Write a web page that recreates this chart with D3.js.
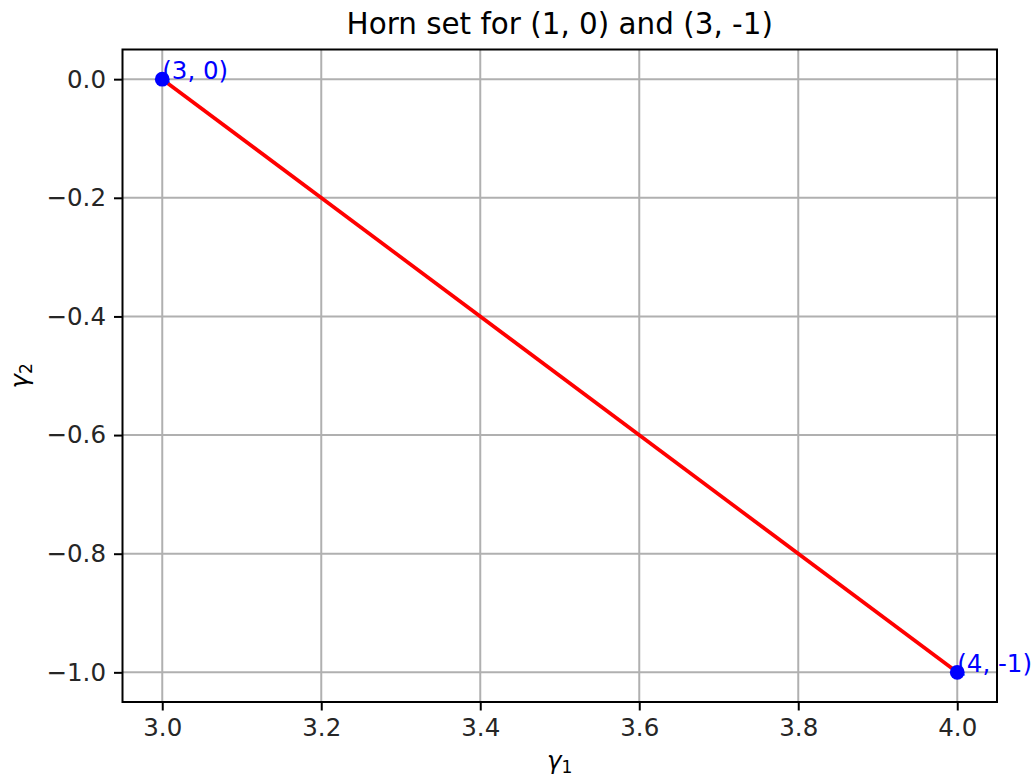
<!DOCTYPE html>
<html><head><meta charset="utf-8">
<script src="https://cdn.jsdelivr.net/npm/d3@7"></script>
<style>body{margin:0;background:#fff}svg{display:block}text{font-family:"DejaVu Sans",sans-serif}</style>
</head><body>
<script>
const titleText = "Horn set for (1, 0) and (3, -1)";
const pointX = [3, 4];
const pointY = [0, -1];
const pointLabels = ["(3, 0)", "(4, -1)"];
const xTicks = [3.0, 3.2, 3.4, 3.6, 3.8, 4.0];
const yTicks = [0.0, -0.2, -0.4, -0.6, -0.8, -1.0];

const W = 1033, H = 778;
const L = 122.5, R = 997, T = 49.5, B = 702;
const fs = 24.5;
const svg = d3.select("body").append("svg").attr("width", W).attr("height", H);
const x = d3.scaleLinear().domain([2.95, 4.05]).range([L, R]);
const y = d3.scaleLinear().domain([0.05, -1.05]).range([T, B]);

// grid
svg.append("g").selectAll("line").data(xTicks).join("line")
  .attr("x1", d => x(d)).attr("x2", d => x(d)).attr("y1", T).attr("y2", B)
  .attr("stroke", "#b0b0b0").attr("stroke-width", 2);
svg.append("g").selectAll("line").data(yTicks).join("line")
  .attr("y1", d => y(d)).attr("y2", d => y(d)).attr("x1", L).attr("x2", R)
  .attr("stroke", "#b0b0b0").attr("stroke-width", 2);

const fmt = d => (d < 0 ? "\u2212" : "") + Math.abs(d).toFixed(1);
const xAxis = svg.append("g").attr("transform", `translate(0,${B})`)
  .call(d3.axisBottom(x).tickValues(xTicks).tickFormat(fmt).tickSize(8.5).tickPadding(8));
const yAxis = svg.append("g").attr("transform", `translate(${L},0)`)
  .call(d3.axisLeft(y).tickValues(yTicks).tickFormat(fmt).tickSize(8.5).tickPadding(8));
[xAxis, yAxis].forEach(a => {
  a.select(".domain").remove();
  a.selectAll("line").attr("stroke", "#000").attr("stroke-width", 2);
  a.selectAll("text").attr("font-size", fs).attr("fill", "#262626").style("font-family", "DejaVu Sans");
});

// line
const pts = pointX.map((d, i) => [d, pointY[i]]);
svg.append("path").datum(pts)
  .attr("d", d3.line().x(d => x(d[0])).y(d => y(d[1])))
  .attr("fill", "none").attr("stroke", "#ff0000").attr("stroke-width", 3.7);
// points
svg.append("g").selectAll("circle").data(pts).join("circle")
  .attr("cx", d => x(d[0])).attr("cy", d => y(d[1])).attr("r", 7.4).attr("fill", "#0000ff");
svg.append("g").selectAll("text").data(pts).join("text")
  .attr("x", d => x(d[0])).attr("y", d => y(d[1]))
  .attr("font-size", fs).attr("fill", "#0000ff").text((d, i) => pointLabels[i]);

// frame
svg.append("rect").attr("x", L).attr("y", T).attr("width", R - L).attr("height", B - T)
  .attr("fill", "none").attr("stroke", "#000").attr("stroke-width", 2);

// title
svg.append("text").attr("x", (L + R) / 2).attr("y", 34).attr("text-anchor", "middle")
  .attr("font-size", 29.4).attr("fill", "#000").text(titleText);

// axis labels
const xl = svg.append("text").attr("x", (L + R) / 2).attr("y", 769).attr("text-anchor", "middle")
  .attr("font-size", fs).attr("fill", "#000");
xl.append("tspan").attr("font-style", "italic").text("\u03b3");
xl.append("tspan").attr("font-size", fs * 0.7).attr("dy", 4).text("1");
const yl = svg.append("text").attr("transform", `translate(28,${(T + B) / 2}) rotate(-90)`)
  .attr("text-anchor", "middle").attr("font-size", fs).attr("fill", "#000");
yl.append("tspan").attr("font-style", "italic").text("\u03b3");
yl.append("tspan").attr("font-size", fs * 0.7).attr("dy", 4).text("2");
</script>
</body></html>
